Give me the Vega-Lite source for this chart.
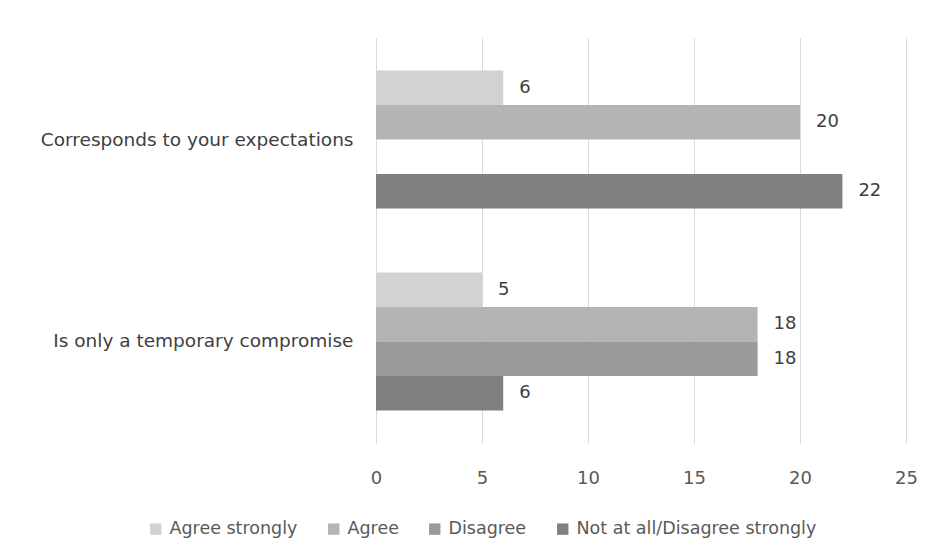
{
  "$schema": "https://vega.github.io/schema/vega-lite/v6.json",
  "width": 530,
  "height": 405,
  "autosize": {"type": "none"},
  "padding": {"left": 376, "top": 38, "right": 33, "bottom": 114},
  "background": "white",
  "config": {"font": "DejaVu Sans", "view": {"stroke": null}},
  "data": {
    "values": [
      {"item": "Corresponds to your expectations", "response": "Agree strongly", "count": 6},
      {"item": "Corresponds to your expectations", "response": "Agree", "count": 20},
      {"item": "Corresponds to your expectations", "response": "Not at all/Disagree strongly", "count": 22},
      {"item": "Is only a temporary compromise", "response": "Agree strongly", "count": 5},
      {"item": "Is only a temporary compromise", "response": "Agree", "count": 18},
      {"item": "Is only a temporary compromise", "response": "Disagree", "count": 18},
      {"item": "Is only a temporary compromise", "response": "Not at all/Disagree strongly", "count": 6}
    ]
  },
  "encoding": {
    "y": {
      "field": "item",
      "type": "nominal",
      "sort": ["Corresponds to your expectations", "Is only a temporary compromise"],
      "scale": {"paddingInner": 0.317, "paddingOuter": 0.161},
      "axis": {"title": null, "domain": false, "ticks": false, "labelPadding": 23, "labelFontSize": 18.5, "labelColor": "#404040", "labelLimit": 400}
    },
    "yOffset": {
      "field": "response",
      "type": "nominal",
      "scale": {"domain": ["Agree strongly", "Agree", "Disagree", "Not at all/Disagree strongly"], "paddingInner": 0, "paddingOuter": 0}
    },
    "x": {
      "field": "count",
      "type": "quantitative",
      "scale": {"domain": [0, 25]},
      "axis": {"values": [0, 5, 10, 15, 20, 25], "title": null, "domain": false, "ticks": false, "labelFlush": false, "labelPadding": 26, "labelFontSize": 18, "labelColor": "#595959", "gridColor": "#d9d9d9", "gridWidth": 1}
    }
  },
  "layer": [
    {
      "mark": {"type": "bar"},
      "encoding": {
        "color": {
          "field": "response",
          "type": "nominal",
          "scale": {"domain": ["Agree strongly", "Agree", "Disagree", "Not at all/Disagree strongly"], "range": ["#d2d2d2", "#b4b4b4", "#9a9a9a", "#808080"]},
          "legend": {
            "orient": "none",
            "legendX": -229,
            "legendY": 482,
            "direction": "horizontal",
            "columns": 4,
            "title": null,
            "symbolType": "square",
            "symbolSize": 130,
            "symbolStrokeWidth": 0,
            "labelFontSize": 17.5,
            "labelColor": "#595959",
            "labelOffset": 5,
            "columnPadding": 27,
            "labelLimit": 400
          }
        }
      }
    },
    {
      "mark": {"type": "text", "align": "left", "dx": 16, "fontSize": 18, "color": "#404040"},
      "encoding": {"text": {"field": "count", "type": "quantitative"}}
    }
  ]
}
